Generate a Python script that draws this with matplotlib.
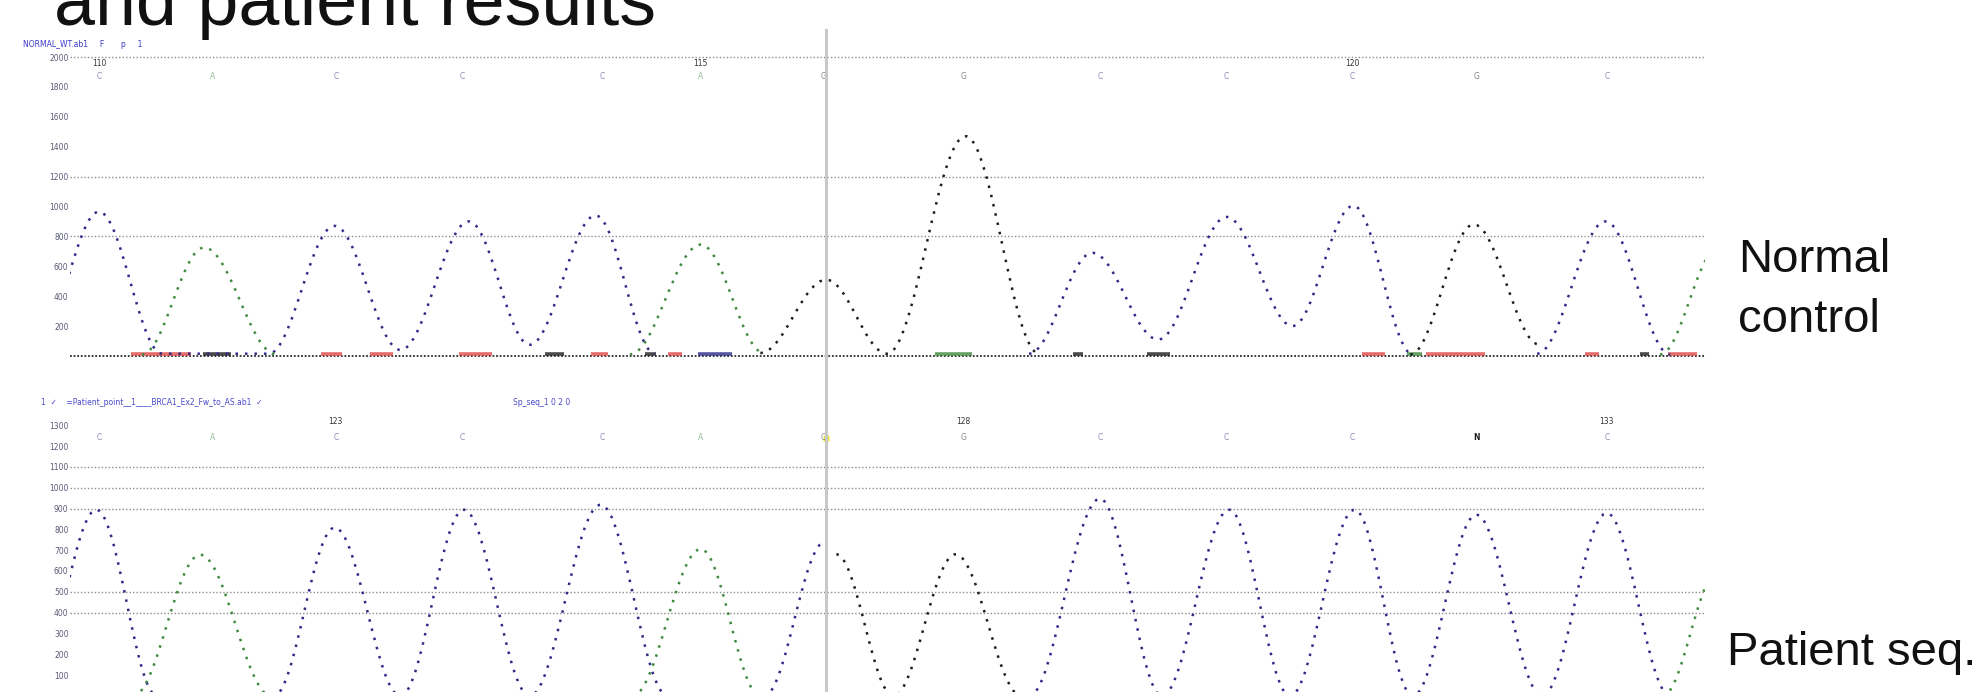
import numpy as np
import matplotlib.pyplot as plt
from matplotlib.path import Path
from matplotlib.patches import PathPatch
from matplotlib.lines import Line2D
import matplotlib.transforms as mtransforms

nan = np.nan

# ---- data: scan position (x) and signal at peaks / valleys of each dye trace ----
# normal control (top)
ctrl_C_x = [30, 78, 128, 212, 264, 316, 370, 418, 470, 517, nan,
            812, 862, 914, 968, 1020, 1068, 1115, nan, 1213, 1267, 1318]
ctrl_C_y = [100, 965, 15, 15, 870, 40, 900, 75, 940, 15, nan,
            15, 690, 110, 930, 200, 1005, 10, nan, 15, 900, 10]
ctrl_A_x = [112, 161, 218, nan, 497, 553, 603, nan, 1310, 1356]
ctrl_A_y = [10, 725, 10, nan, 10, 745, 20, nan, 10, 720]
ctrl_G_x = [600, 652, 700, 762, 820, nan, 1113, 1163, 1215]
ctrl_G_y = [20, 510, 15, 1470, 15, nan, 10, 880, 75]

# small noise blips on the control baseline
bump_start = [103, 253, 292, 362, 466, 527, 1075, 1125, 1251, 1316,
              160, 430, 509, 847, 905, 1294, 551, 738, 1110]
bump_end = [151, 270, 310, 388, 480, 538, 1093, 1172, 1262, 1339,
            182, 445, 518, 855, 923, 1301, 578, 767, 1122]
bump_base = ["T"] * 10 + ["G"] * 6 + ["C"] + ["A"] * 2

# patient (bottom)
pat_C_x = [30, 76, 124, 216, 264, 316, 366, 418, 474, 527, nan, 603, 651, nan,
           812, 868, 917, 970, 1018, 1069, 1115, 1165, 1217, 1268, 1318]
pat_C_y = [150, 894, 0, 0, 808, 0, 894, 0, 918, 0, nan, 0, 740, nan,
           0, 947, 0, 894, 0, 894, 0, 870, 0, 878, 0]
pat_A_x = [105, 158, 214, nan, 499, 553, 600, nan, 1312, 1356]
pat_A_y = [0, 678, 0, nan, 0, 705, 0, nan, 0, 600]
pat_G_x = [660, 705, 754, 806]
pat_G_y = [680, 0, 680, 0]

# base calls
call_x = [78, 168, 265, 365, 475, 553, 650, 760, 868, 968, 1067, 1165, 1268]
ctrl_calls = ["C", "A", "C", "C", "C", "A", "G", "G", "C", "C", "C", "G", "C"]
pat_calls = ["C", "A", "C", "C", "C", "A", "C", "G", "C", "C", "C", "N", "C"]
ctrl_pos_idx = [0, 5, 10]
ctrl_pos_lbl = ["110", "115", "120"]
pat_pos_idx = [2, 7, 12]
pat_pos_lbl = ["123", "128", "133"]

ctrl_ticks = [200, 400, 600, 800, 1000, 1200, 1400, 1600, 1800, 2000]
ctrl_grid = [800, 1200, 2000]
pat_ticks = [100, 200, 300, 400, 500, 600, 700, 800, 900, 1000, 1100, 1200, 1300]
pat_grid = [400, 500, 900, 1000, 1100]

cursor_x = 652

colors = {"A": "#3f8a3f", "C": "#2c2c88", "G": "#1e1e1e", "T": "#e04848", "N": "#1e1e1e"}
TRACE_LS = (0, (1, 2.8))


def trace_path(xs, ys, k=0.36):
    # smooth peak shape: cubic segment between each peak/valley pair
    verts, codes = [], []
    prev = None
    for x, y in zip(xs, ys):
        if np.isnan(x):
            prev = None
            continue
        if prev is None:
            verts.append((x, y))
            codes.append(Path.MOVETO)
        else:
            px, py = prev
            dx = x - px
            verts += [(px + k * dx, py), (x - k * dx, y), (x, y)]
            codes += [Path.CURVE4] * 3
        prev = (x, y)
    return Path(verts, codes)


def setup(ax, ylim, ticks, grid):
    ax.set_xlim(55.2, 1345.5)
    ax.set_ylim(*ylim)
    for s in ax.spines.values():
        s.set_visible(False)
    ax.set_xticks([])
    ax.set_yticks(ticks, [str(t) for t in ticks])
    ax.tick_params(axis="y", length=0, pad=1, labelsize=5.5, labelcolor="#5a5a78")
    for g in grid:
        ax.axhline(g, color="#8c8c8c", lw=1.0, ls=(0, (1, 1.5)), zorder=1)


def draw_traces(ax, traces):
    for base, xs, ys in traces:
        ax.add_patch(PathPatch(trace_path(xs, ys), fill=False, edgecolor=colors[base],
                               lw=1.8, linestyle=TRACE_LS, zorder=3))


def draw_calls(ax, calls, y_call, pos_idx, pos_lbl, y_pos):
    for x, c in zip(call_x, calls):
        bold = c == "N"
        ax.text(x, y_call, c, ha="center", va="center", fontsize=5.5,
                color=colors[c], alpha=1.0 if bold else 0.55,
                fontweight="bold" if bold else "normal")
    for i, lbl in zip(pos_idx, pos_lbl):
        ax.text(call_x[i], y_pos, lbl, ha="center", va="center", fontsize=5.5,
                color="#333333")


fig = plt.figure(figsize=(19.87, 6.92), dpi=100)
fig.patch.set_facecolor("white")

ax1 = fig.add_axes([0.03523, 0.46532, 0.82285, 0.49133])
ax2 = fig.add_axes([0.03523, 0.0, 0.82285, 0.42919])

# ---- top: normal control ----
setup(ax1, (-94, 2181), ctrl_ticks, ctrl_grid)
ax1.axhline(0, color="#2a2a2a", lw=1.3, ls=(0, (1, 1)), zorder=2)
for x0, x1, b in zip(bump_start, bump_end, bump_base):
    ax1.plot([x0, x1], [14, 14], color=colors[b], lw=2.6, alpha=0.8,
             solid_capstyle="butt", zorder=2)
draw_traces(ax1, [("C", ctrl_C_x, ctrl_C_y), ("A", ctrl_A_x, ctrl_A_y),
                  ("G", ctrl_G_x, ctrl_G_y)])
draw_calls(ax1, ctrl_calls, 1873, ctrl_pos_idx, ctrl_pos_lbl, 1960)
ax1.text(18, 2087, "NORMAL_WT.ab1     F       p     1", fontsize=5.5,
         color="#3a3acc", va="center")

# ---- bottom: patient ----
setup(ax2, (19, 1445), pat_ticks, pat_grid)
draw_traces(ax2, [("C", pat_C_x, pat_C_y), ("A", pat_A_x, pat_A_y),
                  ("G", pat_G_x, pat_G_y)])
ax2.plot([cursor_x], [1240], marker="s", ms=5, color="#f2e43a", mec="none", zorder=2)
draw_calls(ax2, pat_calls, 1240, pat_pos_idx, pat_pos_lbl, 1317)
ax2.text(32, 1409, "1  \u2713    =Patient_point__1____BRCA1_Ex2_Fw_to_AS.ab1  \u2713",
         fontsize=5.5, color="#4a4acc", va="center")
ax2.text(405, 1409, "Sp_seq_1 0 2 0", fontsize=5.5, color="#4a4acc", va="center")

# cursor line across both panels
trans = mtransforms.blended_transform_factory(ax1.transData, fig.transFigure)
fig.add_artist(Line2D([cursor_x, cursor_x], [0, 1 - 30 / 692], transform=trans,
                      color="#c8c8c8", lw=2.2, zorder=5))

# slide text
fig.text(54 / 1987, 1 - 25 / 692, "and patient results", fontsize=53,
         family="Liberation Sans", va="baseline", color="#111111")
fig.text(1738 / 1987, 1 - 272 / 692, "Normal", fontsize=34,
         family="Liberation Sans", va="baseline", color="#111111")
fig.text(1738 / 1987, 1 - 332 / 692, "control", fontsize=34,
         family="Liberation Sans", va="baseline", color="#111111")
fig.text(1727 / 1987, 1 - 665 / 692, "Patient seq.", fontsize=34,
         family="Liberation Sans", va="baseline", color="#111111")

fig.savefig("out.png", dpi=100, facecolor="white")
